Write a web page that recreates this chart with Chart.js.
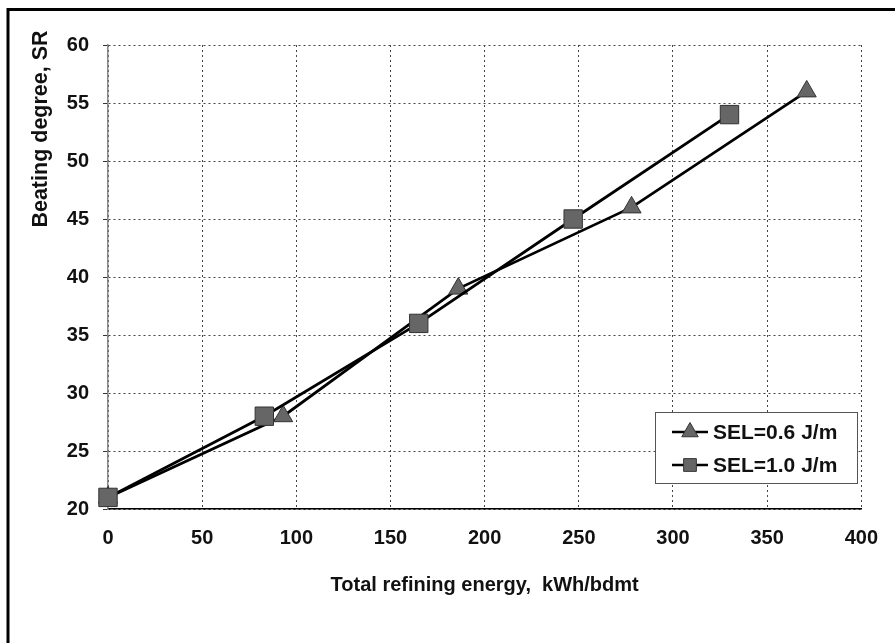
<!DOCTYPE html>
<html>
<head>
<meta charset="utf-8">
<script src="https://cdn.jsdelivr.net/npm/chart.js@4.4.0/dist/chart.umd.min.js"></script>
<style>
  html, body { margin: 0; padding: 0; background: #fff; }
  #wrap { width: 895px; height: 643px; }
</style>
</head>
<body>
<div id="wrap"><canvas id="srChart" width="895" height="643"></canvas></div>
<script>
// Beating degree vs total refining energy, two SEL levels
const energySel06 = [0, 93, 186, 278, 371];
const srSel06 = [21, 28, 39, 46, 56];
const energySel10 = [0, 83, 165, 247, 330];
const srSel10 = [21, 28, 36, 45, 54];
const seriesLabels = ['SEL=0.6 J/m', 'SEL=1.0 J/m'];
const xTitle = 'Total refining energy,  kWh/bdmt';
const yTitle = 'Beating degree, SR';

const FONT = '"Liberation Sans", Arial, sans-serif';

function toPoints(xs, ys) {
    return xs.map((x, i) => ({ x: x, y: ys[i] }));
}

// frame lines (top + left) and rotated y title
const framePlugin = {
    id: 'frame',
    afterDraw(chart) {
        const ctx = chart.ctx;
        ctx.save();
        ctx.strokeStyle = '#000';
        ctx.lineWidth = 3;
        ctx.beginPath();
        ctx.moveTo(8, 643);
        ctx.lineTo(8, 9.5);
        ctx.lineTo(895, 9.5);
        ctx.stroke();
        // y axis title
        ctx.translate(41, 129);
        ctx.rotate(-Math.PI / 2);
        ctx.font = 'bold 21.5px ' + FONT;
        ctx.fillStyle = '#111';
        ctx.textAlign = 'center';
        ctx.textBaseline = 'middle';
        ctx.fillText(yTitle, 0, 0);
        ctx.restore();
    }
};

// legend box inside the plot, lower right
const boxLegend = {
    id: 'boxLegend',
    afterDatasetsDraw(chart) {
        const ctx = chart.ctx;
        const x0 = 655, y0 = 412, w = 202, h = 71;
        ctx.save();
        ctx.fillStyle = '#fff';
        ctx.fillRect(x0, y0, w, h);
        ctx.strokeStyle = '#555';
        ctx.lineWidth = 1;
        ctx.strokeRect(x0 + 0.5, y0 + 0.5, w, h);
        chart.data.datasets.forEach((ds, i) => {
            const cy = y0 + 20 + i * 33;
            ctx.strokeStyle = '#000';
            ctx.lineWidth = 2.5;
            ctx.beginPath();
            ctx.moveTo(672, cy);
            ctx.lineTo(708, cy);
            ctx.stroke();
            ctx.fillStyle = ds.pointBackgroundColor;
            ctx.strokeStyle = ds.pointBorderColor;
            ctx.lineWidth = 1;
            Chart.helpers.drawPoint(ctx, {
                pointStyle: ds.pointStyle,
                radius: ds.pointStyle === 'triangle' ? 9.5 : 9,
                borderWidth: 1,
                rotation: 0
            }, 690, cy);
            ctx.fillStyle = '#111';
            ctx.font = 'bold 21px ' + FONT;
            ctx.textAlign = 'left';
            ctx.textBaseline = 'middle';
            ctx.fillText(ds.label, 713, cy + 1);
        });
        ctx.restore();
    }
};

new Chart(document.getElementById('srChart').getContext('2d'), {
    type: 'scatter',
    data: {
        datasets: [
            {
                label: seriesLabels[0],
                data: toPoints(energySel06, srSel06),
                order: 1,
                showLine: true,
                clip: false,
                borderColor: '#000',
                borderWidth: 2.8,
                pointStyle: 'triangle',
                pointRadius: 11,
                pointBackgroundColor: '#666666',
                pointBorderColor: '#333',
                pointBorderWidth: 1
            },
            {
                label: seriesLabels[1],
                data: toPoints(energySel10, srSel10),
                order: 0,
                showLine: true,
                clip: false,
                borderColor: '#000',
                borderWidth: 2.8,
                pointStyle: 'rect',
                pointRadius: 13,
                pointBackgroundColor: '#666666',
                pointBorderColor: '#333',
                pointBorderWidth: 1
            }
        ]
    },
    options: {
        responsive: false,
        animation: false,
        layout: { padding: { left: 0, top: 45, right: 28, bottom: 0 } },
        plugins: {
            legend: { display: false },
            tooltip: { enabled: false },
            title: { display: false }
        },
        scales: {
            x: {
                type: 'linear',
                min: 0,
                max: 400,
                ticks: { stepSize: 50, padding: 17, color: '#111', font: { family: FONT, size: 20, weight: 'bold' } },
                grid: { color: '#444', lineWidth: 1, drawTicks: false },
                border: { color: '#000', width: 1.5, dash: [2, 3] },
                title: { display: true, text: xTitle, color: '#111', padding: { top: 0, bottom: 46 }, font: { family: FONT, size: 20, weight: 'bold' } },
                afterFit(scale) { scale.height = 134; }
            },
            y: {
                min: 20,
                max: 60,
                ticks: { stepSize: 5, padding: 14, color: '#111', font: { family: FONT, size: 20, weight: 'bold' } },
                grid: { color: '#444', lineWidth: 1, tickLength: 5, tickColor: '#333', tickBorderDash: [] },
                border: { color: '#888', width: 1.5, dash: [2, 3] },
                afterFit(scale) { scale.width = 108; }
            }
        }
    },
    plugins: [framePlugin, boxLegend]
});
</script>
</body>
</html>
